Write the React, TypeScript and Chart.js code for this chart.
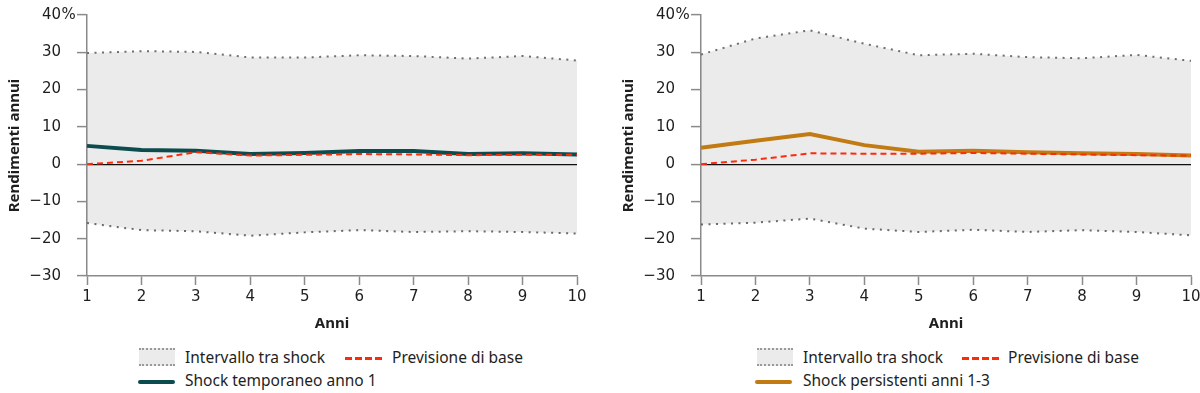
import React, { useEffect, useRef } from "react";
import { Chart, registerables } from "chart.js";

Chart.register(...registerables);

const years = ["1", "2", "3", "4", "5", "6", "7", "8", "9", "10"];
const yMin = -30;
const yMax = 40;
const yStep = 10;
const topTickSuffix = "%";

// Left panel: temporary shock in year 1
const leftUpper = [29.8, 30.3, 30.1, 28.6, 28.6, 29.2, 29.0, 28.3, 29.0, 27.8];
const leftLower = [-15.8, -17.7, -18.0, -19.2, -18.3, -17.7, -18.2, -18.0, -18.2, -18.6];
const leftShock = [4.9, 3.8, 3.6, 2.7, 3.0, 3.5, 3.5, 2.7, 2.9, 2.6];
const leftBase = [0, 0.9, 3.2, 2.3, 2.5, 2.7, 2.6, 2.4, 2.5, 2.5];

// Right panel: persistent shocks years 1-3
const rightUpper = [29.4, 33.7, 35.9, 32.3, 29.2, 29.6, 28.7, 28.4, 29.3, 27.7];
const rightLower = [-16.2, -15.7, -14.6, -17.3, -18.2, -17.6, -18.2, -17.7, -18.2, -19.1];
const rightShock = [4.4, 6.3, 8.1, 5.1, 3.3, 3.6, 3.2, 2.9, 2.7, 2.3];
const rightBase = [0, 1.2, 2.9, 2.8, 2.8, 3.0, 2.8, 2.6, 2.4, 2.3];

const legendRange = "Intervallo tra shock";
const legendBase = "Previsione di base";
const legendLeftShock = "Shock temporaneo anno 1";
const legendRightShock = "Shock persistenti anni 1-3";

const FONT = "'Noto Sans', Lato, sans-serif";
const TICK_FONT = "'DejaVu Sans', 'Noto Sans', sans-serif";
const TEXT = "#1e1e1e";
const AXIS = "#8a8a8a";
const RED = "#ff2a0a";
const BAND = "rgba(0,0,0,0.078)";
const DOT = "#6e6e6e";
const Y_TICK_LEN = 10;
const Y_TICK_PAD = 16;

const percentPlugin = {
  id: "topPercent",
  afterDraw(chart: any) {
    const s = chart.scales.y;
    const ctx = chart.ctx;
    const y = s.getPixelForValue(yMax);
    const x = s.right - Y_TICK_LEN - Y_TICK_PAD;
    ctx.save();
    ctx.font = "15px " + TICK_FONT;
    ctx.fillStyle = TEXT;
    ctx.textAlign = "left";
    ctx.textBaseline = "middle";
    ctx.fillText(topTickSuffix, x + 0.5, y);
    ctx.restore();
  },
};

type PanelProps = {
  left: number;
  upper: number[];
  lower: number[];
  shock: number[];
  base: number[];
  shockColor: string;
  shockLabel: string;
  legendX: { box: number; text1: number; dash: number; text2: number; line: number; text3: number };
};

function Panel(p: PanelProps) {
  const ref = useRef<HTMLCanvasElement | null>(null);
  useEffect(() => {
    if (!ref.current) return;
    const chart = new Chart(ref.current, {
      type: "line",
      data: {
        labels: years,
        datasets: [
          {
            label: "upper",
            data: p.upper,
            borderColor: DOT,
            borderWidth: 2,
            borderDash: [2, 5.5],
            pointRadius: 0,
            fill: "+1",
            backgroundColor: BAND,
            order: 3,
          },
          {
            label: "lower",
            data: p.lower,
            borderColor: DOT,
            borderWidth: 2,
            borderDash: [2, 5.5],
            pointRadius: 0,
            fill: false,
            order: 3,
          },
          {
            label: p.shockLabel,
            data: p.shock,
            borderColor: p.shockColor,
            borderWidth: 4,
            pointRadius: 0,
            fill: false,
            order: 1,
          },
          {
            label: legendBase,
            data: p.base,
            borderColor: RED,
            borderWidth: 2,
            borderDash: [6, 4],
            pointRadius: 0,
            fill: false,
            order: 0,
          },
        ],
      },
      options: {
        animation: false,
        responsive: false,
        maintainAspectRatio: false,
        devicePixelRatio: 1,
        layout: { padding: { left: 4, right: 23, top: 15, bottom: 0 } },
        plugins: { legend: { display: false }, tooltip: { enabled: false } },
        scales: {
          x: {
            offset: false,
            grid: { drawOnChartArea: false, tickLength: 9, tickColor: AXIS, tickWidth: 1.5 },
            border: { color: AXIS, width: 1.5 },
            ticks: { color: TEXT, font: { size: 15, family: TICK_FONT }, padding: 3, maxRotation: 0 },
            title: {
              display: true,
              text: "Anni",
              color: TEXT,
              font: { size: 15, family: FONT, weight: "bold" },
              padding: { top: 0, bottom: 7 },
            },
            afterFit: (s: any) => {
              s.height = 64;
            },
          },
          y: {
            min: yMin,
            max: yMax,
            grid: {
              color: (ctx: any) => (ctx.tick && ctx.tick.value === 0 ? "#111" : "rgba(0,0,0,0)"),
              lineWidth: 1.2,
              tickColor: AXIS,
              tickWidth: 1.5,
              tickLength: Y_TICK_LEN,
              drawOnChartArea: true,
            },
            border: { color: AXIS, width: 1.5 },
            ticks: {
              stepSize: yStep,
              color: TEXT,
              padding: Y_TICK_PAD,
              font: { size: 15, family: TICK_FONT },
              callback: (v: any) => {
                const n = Number(v);
                if (n < 0) return "\u2212" + Math.abs(n);
                return String(n);
              },
            },
            title: {
              display: true,
              text: "Rendimenti annui",
              color: TEXT,
              font: { size: 15, family: FONT, weight: "bold" },
              padding: { top: 2, bottom: 0 },
            },
            afterFit: (s: any) => {
              s.width = 83;
              s.paddingTop = 0;
              s.paddingBottom = 0;
            },
          },
        },
      },
      plugins: [percentPlugin],
    } as any);
    return () => chart.destroy();
  }, []);

  const lx = p.legendX;
  const textStyle: React.CSSProperties = {
    position: "absolute",
    fontFamily: FONT,
    fontSize: 15.5,
    lineHeight: "18px",
    color: TEXT,
    whiteSpace: "nowrap",
  };
  return (
    <div style={{ position: "absolute", left: p.left, top: 0, width: 600, height: 393 }}>
      <canvas ref={ref} width={600} height={340} style={{ width: 600, height: 340, display: "block" }} />
      <div
        style={{
          position: "absolute",
          left: lx.box,
          top: 348,
          width: 36,
          height: 14,
          background: "#ebebeb",
          borderTop: "2px dotted #9a9a9a",
          borderBottom: "2px dotted #9a9a9a",
        }}
      />
      <span style={{ ...textStyle, left: lx.text1, top: 348 }}>{legendRange}</span>
      <div
        style={{
          position: "absolute",
          left: lx.dash,
          top: 357,
          width: 37,
          height: 2.5,
          background:
            "repeating-linear-gradient(to right, " + RED + " 0px, " + RED + " 7px, transparent 7px, transparent 10px)",
        }}
      />
      <span style={{ ...textStyle, left: lx.text2, top: 348 }}>{legendBase}</span>
      <div
        style={{
          position: "absolute",
          left: lx.line,
          top: 380,
          width: 37,
          height: 4,
          borderRadius: 2,
          background: p.shockColor,
        }}
      />
      <span style={{ ...textStyle, left: lx.text3, top: 371 }}>{p.shockLabel}</span>
    </div>
  );
}

export default function App() {
  return (
    <div
      style={{
        position: "fixed",
        left: 0,
        top: 0,
        width: 1200,
        height: 393,
        overflow: "hidden",
        background: "#fff",
      }}
    >
      <Panel
        left={0}
        upper={leftUpper}
        lower={leftLower}
        shock={leftShock}
        base={leftBase}
        shockColor="#0c4c4f"
        shockLabel={legendLeftShock}
        legendX={{ box: 139, text1: 185, dash: 345, text2: 392, line: 138, text3: 185 }}
      />
      <Panel
        left={614}
        upper={rightUpper}
        lower={rightLower}
        shock={rightShock}
        base={rightBase}
        shockColor="#c27a12"
        shockLabel={legendRightShock}
        legendX={{ box: 143, text1: 189, dash: 348, text2: 394, line: 141, text3: 189 }}
      />
    </div>
  );
}
